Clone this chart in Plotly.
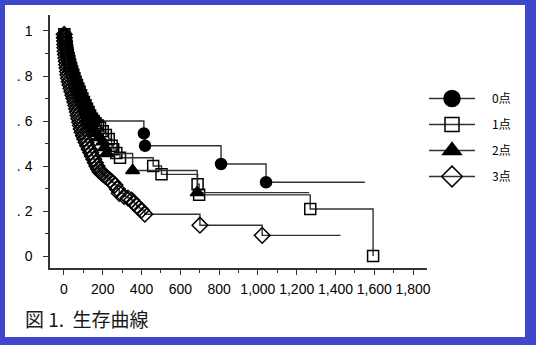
import plotly.graph_objects as go

# ---- data ----
labels = ["0点", "1点", "2点", "3点"]

g0_t = [3, 6, 9, 11, 13, 15, 18, 21, 24, 28, 32, 37, 42, 48, 55, 62, 70, 78, 86, 94, 102, 110, 118, 126, 134, 142, 150, 158, 412, 418, 810, 1042]
g0_s = [.985, .97, .955, .94, .925, .91, .895, .88, .865, .85, .835, .82, .805, .79, .78, .765, .75, .735, .72, .705, .69, .675, .66, .645, .63, .62, .61, .60, .545, .49, .409, .328]
g0_end = 1552

g1_t = [2, 5, 8, 11, 14, 17, 20, 24, 28, 32, 37, 42, 48, 54, 60, 67, 74, 81, 88, 95, 103, 111, 119, 127, 135, 144, 153, 163, 175, 186, 200, 216, 231, 246, 254, 270, 289, 460, 503, 689, 697, 1270, 1594]
g1_s = [.985, .97, .955, .94, .925, .91, .895, .88, .865, .85, .835, .82, .805, .79, .775, .76, .745, .73, .715, .70, .685, .67, .655, .64, .625, .61, .60, .59, .58, .57, .555, .538, .52, .49, .475, .458, .437, .40, .363, .319, .272, .209, 0.0]
g1_end = 1594

g2_t = [1, 4, 7, 10, 13, 16, 19, 23, 27, 31, 35, 40, 45, 50, 56, 62, 68, 74, 80, 86, 92, 98, 104, 111, 118, 125, 132, 140, 148, 165, 182, 201, 210, 220, 354, 687]
g2_s = [.985, .97, .955, .94, .925, .91, .895, .88, .865, .85, .835, .82, .805, .79, .775, .76, .745, .73, .715, .70, .685, .67, .655, .64, .625, .61, .595, .58, .565, .546, .527, .508, .482, .456, .38, .282]
g2_end = 1265

g3_t = [1, 2, 3, 4, 5, 6, 8, 10, 12, 14, 16, 18, 20, 23, 27, 31, 36, 41, 46, 51, 56, 61, 65, 69, 73, 77, 81, 85, 89, 94, 100, 107, 114, 122, 130, 138, 146, 154, 162, 170, 178, 186, 198, 211, 224, 237, 250, 263, 275, 285, 310, 330, 349, 362, 375, 388, 400, 417, 701, 1022]
g3_s = [.985, .97, .955, .94, .925, .91, .895, .88, .865, .85, .835, .82, .805, .79, .775, .76, .745, .73, .715, .70, .685, .67, .655, .64, .625, .61, .595, .58, .565, .55, .535, .52, .505, .49, .475, .46, .445, .43, .415, .40, .387, .375, .365, .356, .347, .338, .327, .316, .298, .279, .265, .258, .249, .235, .222, .213, .204, .186, .137, .092]
g3_end = 1426

x_ticks = [0, 200, 400, 600, 800, 1000, 1200, 1400, 1600, 1800]
y_ticks = [0, 0.2, 0.4, 0.6, 0.8, 1.0]
y_ticktext = ["0", ". 2", ". 4", ". 6", ". 8", "1"]

caption = "図 1.\u00a0 生存曲線"

# ---- styling ----
groups = [
    (g0_t, g0_s, g0_end, "circle", 11, 16),
    (g1_t, g1_s, g1_end, "square-open", 11, 14),
    (g2_t, g2_s, g2_end, "triangle-up", 12, 16),
    (g3_t, g3_s, g3_end, "diamond-open", 12, 16),
]
LINE = "#333333"
BLUE = "#3F48CC"
SP = "\u2002\u2002"  # gap between legend symbol and its label

fig = go.Figure()
for i, (t, s, end, sym, ms, lms) in enumerate(groups):
    xs = [0] + list(t)
    ys = [1.0] + list(s)
    if end > t[-1]:
        xs.append(end)
        ys.append(s[-1])
    fig.add_trace(go.Scatter(x=xs, y=ys, mode="lines", line=dict(color=LINE, width=1.4, shape="hv"),
                             showlegend=False, hoverinfo="skip"))
    fig.add_trace(go.Scatter(x=t, y=s, mode="markers",
                             marker=dict(symbol=sym, size=ms, color="black",
                                         line=dict(color="black", width=1.5)),
                             showlegend=False))
    fig.add_trace(go.Scatter(x=[None], y=[None], mode="lines+markers", name=SP + labels[i],
                             legendgroup=f"g{i}",
                             line=dict(color=LINE, width=1.4),
                             marker=dict(symbol=sym, size=lms, color="black",
                                         line=dict(color="black", width=1.5))))

L, R, T, B = 50, 109, 15, 77
W, H = 536, 345
pw, ph = W - L - R, H - T - B

def px(xp):
    return (xp - L) / pw

def py(yp):
    return (H - B - yp) / ph

fig.add_shape(type="rect", xref="paper", yref="paper", x0=px(5), x1=px(525), y0=py(337), y1=py(5),
              fillcolor="white", line=dict(width=0), layer="below")

fig.add_annotation(text=caption, xref="paper", yref="paper", x=px(23), y=py(318),
                   xanchor="left", yanchor="middle", showarrow=False,
                   font=dict(family="Noto Sans CJK JP", size=19, color="#1a1a1a"))

tickfont = dict(family="Liberation Sans Narrow, Arial Narrow, Liberation Sans, sans-serif", size=14, color="black")

fig.update_layout(
    width=W, height=H,
    margin=dict(l=L, r=R, t=T, b=B, pad=0),
    paper_bgcolor=BLUE, plot_bgcolor="white",
    showlegend=True,
    legend=dict(x=px(424), y=py(84), xanchor="left", yanchor="top",
                font=dict(family="Noto Sans CJK JP", size=12, color="black"),
                itemwidth=46, tracegroupgap=7, traceorder="grouped",
                bgcolor="rgba(0,0,0,0)"),
    xaxis=dict(range=[-72, 1872], tickvals=x_ticks, tickformat=",", showgrid=False, zeroline=False,
               showline=True, linecolor="#333", linewidth=1.5, ticks="outside", ticklen=5,
               tickwidth=1.3, tickcolor="#333", tickfont=tickfont, ticklabelstandoff=2,
               minor=dict(dtick=100, tick0=0, ticks="outside", ticklen=3, tickcolor="#333", tickwidth=1.2)),
    yaxis=dict(range=[-0.053, 1.071], tickvals=y_ticks, ticktext=y_ticktext, showgrid=False, zeroline=False,
               showline=True, linecolor="#333", linewidth=1.5, ticks="outside", ticklen=5,
               tickwidth=1.3, tickcolor="#333", tickfont=tickfont, ticklabelstandoff=8,
               minor=dict(dtick=0.1, tick0=0, ticks="outside", ticklen=3, tickcolor="#333", tickwidth=1.2)),
)

fig.write_html("out.html")
